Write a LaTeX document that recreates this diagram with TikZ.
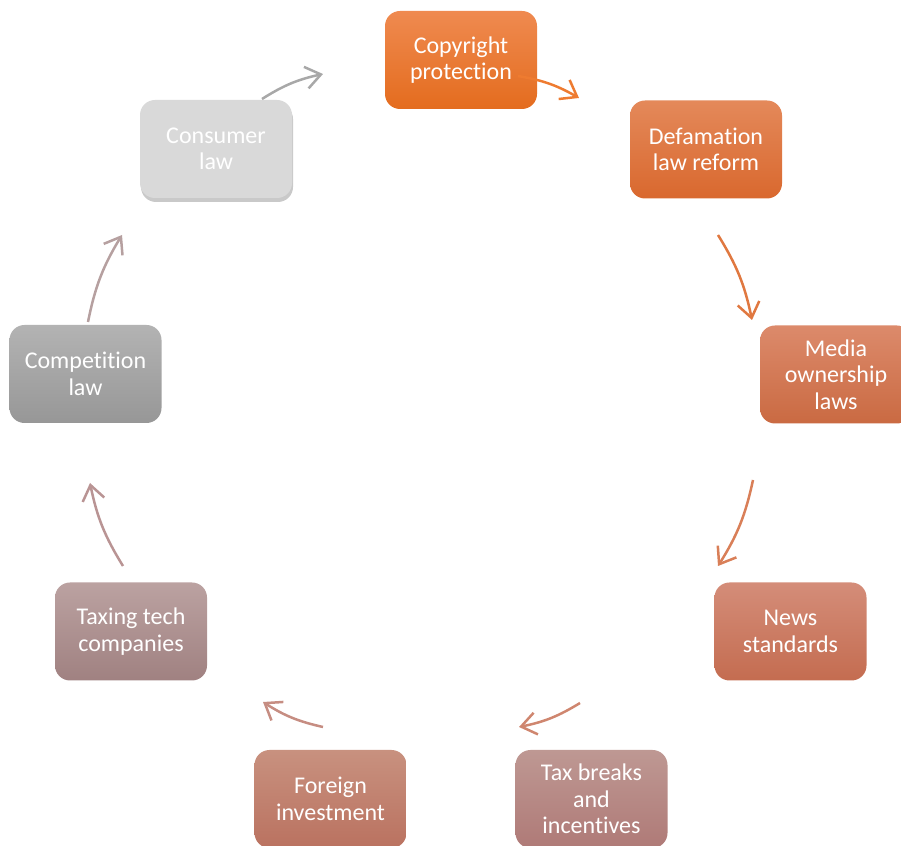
\documentclass[tikz,border=0pt]{standalone}
\usepackage{fontspec}
\setmainfont{Carlito}[RawFeature={-liga;-clig;-dlig;-calt}]
\usetikzlibrary{arrows.meta,shadows}
\definecolor{c1t}{HTML}{EF8A50}\definecolor{c1b}{HTML}{E46C1E}
\definecolor{c2t}{HTML}{E4895A}\definecolor{c2b}{HTML}{D9682E}
\definecolor{c3t}{HTML}{DC8A6B}\definecolor{c3b}{HTML}{CA6A42}
\definecolor{c4t}{HTML}{D48D79}\definecolor{c4b}{HTML}{C46C50}
\definecolor{c5t}{HTML}{BE9893}\definecolor{c5b}{HTML}{AF7A77}
\definecolor{c6t}{HTML}{C8917F}\definecolor{c6b}{HTML}{BA7260}
\definecolor{c7t}{HTML}{BBA2A1}\definecolor{c7b}{HTML}{A08181}
\definecolor{c8t}{HTML}{B3B3B3}\definecolor{c8b}{HTML}{979797}
\definecolor{c9}{HTML}{D9D9D9}
\definecolor{r1}{HTML}{EE7B30}\definecolor{r2}{HTML}{E07840}
\definecolor{r3}{HTML}{D97F58}\definecolor{r4}{HTML}{CF866F}
\definecolor{r5}{HTML}{C68D82}\definecolor{r6}{HTML}{B99494}
\definecolor{r7}{HTML}{B6A0A0}\definecolor{r8}{HTML}{A8A8A8}
\newcommand{\nt}{t\kern0pt }
\begin{document}
\begin{tikzpicture}[x=1pt,y=1pt,
  box/.style={rounded corners=15pt, minimum width=152pt, minimum height=98pt,
    align=center, text=white, font=\fontsize{24}{26.5}\selectfont, inner sep=0pt},
  cyc/.style={line width=2.5pt, -{Straight Barb[length=15pt,width=22pt]}, bend left=10}
]
\useasboundingbox (0,0) rectangle (901,845);
% nodes
\node[box, top color=c1t, bottom color=c1b] (copy) at (461,785) {Copyright\\protec\nt ion};
\node[box, top color=c2t, bottom color=c2b] (defam) at (706,695.5) {Defama\nt ion\\law reform};
\node[box, top color=c3t, bottom color=c3b] (media) at (836,470.5) {Media\\ownership\\laws};
\node[box, top color=c4t, bottom color=c4b] (news) at (790.5,213.5) {News\\standards};
\node[box, top color=c5t, bottom color=c5b] (taxb) at (591.5,46) {Tax breaks\\and\\incen\nt ives};
\node[box, top color=c6t, bottom color=c6b] (foreign) at (330.5,46) {Foreign\\investment};
\node[box, top color=c7t, bottom color=c7b] (taxing) at (131,213.5) {Taxing tech\\companies};
\node[box, top color=c8t, bottom color=c8b] (comp) at (85.5,471) {Competi\nt ion\\law};
\node[box, fill=c9, drop shadow={shadow xshift=1pt, shadow yshift=-4pt, opacity=0.3, fill=black!70}] (cons) at (216,696) {Consumer\\law};
% arrow end points
\coordinate (a1s) at (518,769); \coordinate (a1e) at (579,747);
\coordinate (a2s) at (718,610); \coordinate (a2e) at (752,525);
\coordinate (a3s) at (753,365); \coordinate (a3e) at (718,279);
\coordinate (a4s) at (580,142); \coordinate (a4e) at (519,118);
\coordinate (a5s) at (323,118); \coordinate (a5e) at (263,143);
\coordinate (a6s) at (123,279); \coordinate (a6e) at (90,362);
\coordinate (a7s) at (88,523);  \coordinate (a7e) at (122,610);
\coordinate (a8s) at (262,746); \coordinate (a8e) at (323,771);
\draw[cyc, r1] (a1s) to (a1e);
\draw[cyc, r2] (a2s) to (a2e);
\draw[cyc, r3] (a3s) to (a3e);
\draw[cyc, r4] (a4s) to (a4e);
\draw[cyc, r5] (a5s) to (a5e);
\draw[cyc, r6] (a6s) to (a6e);
\draw[cyc, r7] (a7s) to (a7e);
\draw[cyc, r8] (a8s) to (a8e);
\end{tikzpicture}
\end{document}
